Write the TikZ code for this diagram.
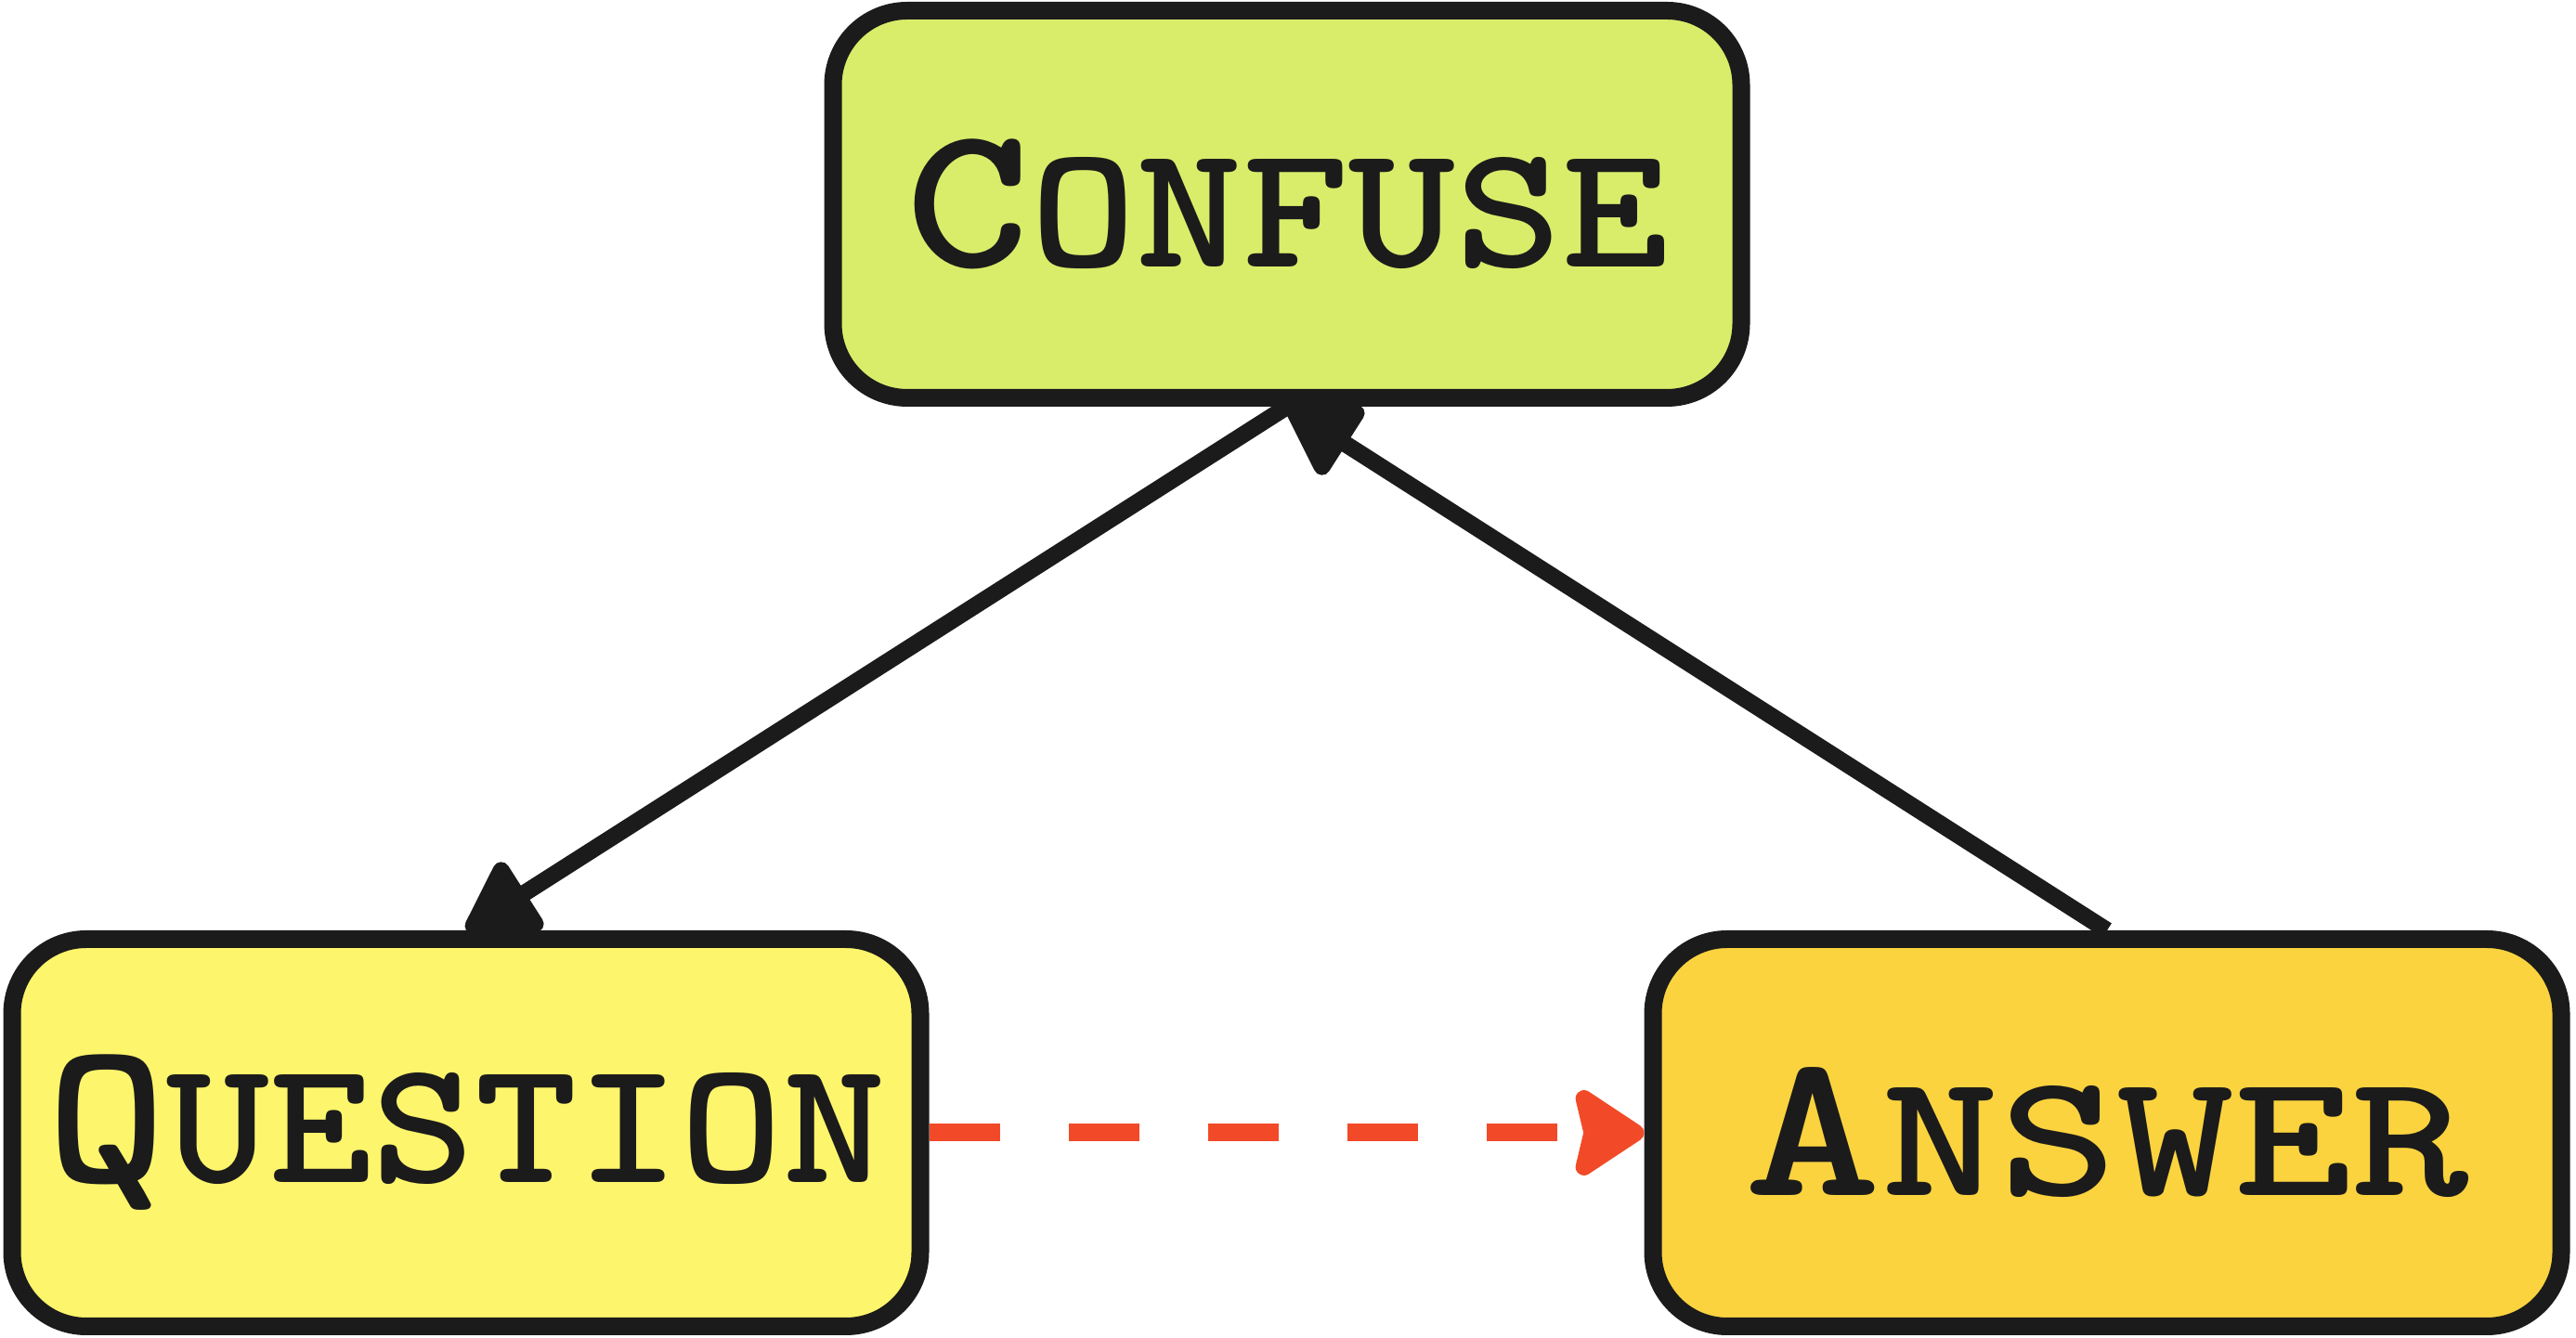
\documentclass[tikz,border=0pt]{standalone}
\usetikzlibrary{arrows.meta,positioning}
\definecolor{ink}{HTML}{1B1B1B}
\definecolor{limefill}{HTML}{D9ED6A}
\definecolor{lemonfill}{HTML}{FDF56C}
\definecolor{goldfill}{HTML}{FAD33F}
\definecolor{dashred}{HTML}{F24A28}
\newcommand{\firstletter}[1]{{\fontsize{63}{63}\selectfont #1}}
\newcommand{\widetext}[2]{\scalebox{#1}[1]{#2}}

\begin{document}
\begin{tikzpicture}[x=1cm, y=1cm, >=latex,
    card/.style={draw=ink, line width=1.9mm, rounded corners=8mm, minimum width=9.78cm, minimum height=4.17cm, inner sep=0pt, text=ink, font=\ttfamily\bfseries\fontsize{54}{54}\selectfont},
    link/.style={draw=ink, line width=1.8mm, -{Triangle[length=8.5mm, width=9.5mm, round]}},
    hint/.style={draw=dashred, line width=1.9mm, dash pattern=on 7.6mm off 7.4mm, -{Stealth[length=8.5mm, width=11mm, inset=1.2mm, round]}}]
    \useasboundingbox (0,0) rectangle (27.74,14.41);

    % Boxes
    \node[card, fill=limefill] (confuse) at (13.86, 12.21) {\widetext{1.15}{\firstletter{C}ONFUSE}};
    \node[card, fill=lemonfill] (question) at (5.02, 2.21) {\widetext{1.11}{\firstletter{Q}UESTION}};
    \node[card, fill=goldfill] (answer) at (22.69, 2.21) {\widetext{1.27}{\firstletter{A}NSWER}};

    % Links
    \draw[link] (confuse.south) -- (question.north);
    \draw[link] (answer.north) -- (confuse.south);
    \draw[hint] (question.east) -- (question.east -| answer.west);
\end{tikzpicture}
\end{document}
